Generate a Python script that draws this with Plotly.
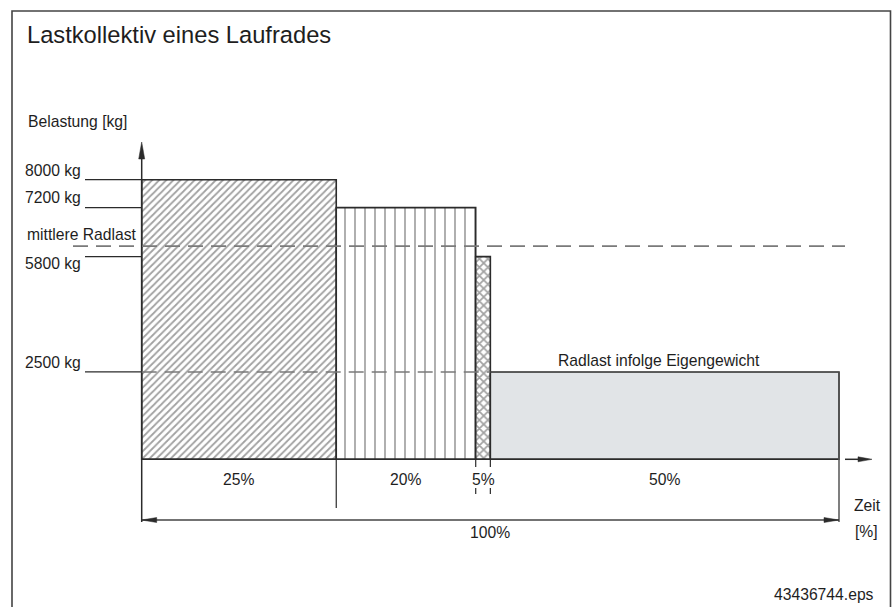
import plotly.graph_objects as go

# ---------------- data ----------------
share_labels = ["25%", "20%", "5%", "50%"]          # time shares (labels)
loads_kg = [8000, 7200, 5800, 2500]                 # wheel load per share
drawn_widths = [27.9, 20.0, 2.1, 50.0]              # schematic widths on the time axis (drawing not to scale)
mean_load_kg = 6100                                 # mittlere Radlast
tick_loads = [8000, 7200, 5800, 2500]
tick_labels = ["8000 kg", "7200 kg", "5800 kg", "2500 kg"]
total_label = "100%"

# ---------------- geometry helpers ----------------
W, H = 894, 607
X0, XS = 141.7, 6.973      # pixel of x=0, pixels per x unit
Y0, YS = 459.3, 0.03495    # pixel of y=0, pixels per kg


def xd(px):
    return (px - X0) / XS


def yd(py):
    return (Y0 - py) / YS


edges = [0.0]
for w in drawn_widths:
    edges.append(edges[-1] + w)
centers = [(a + b) / 2 for a, b in zip(edges[:-1], edges[1:])]

FONT = "Liberation Sans, Arial, Helvetica, sans-serif"
TXT = "#1e1e1e"
LINE = "#2b2b2b"
GREY = "#7a7a7a"

fig = go.Figure()
fig.add_trace(go.Bar(
    x=centers, y=loads_kg, width=drawn_widths, base=0,
    marker=dict(
        color=["white", "white", "white", "#e1e4e7"],
        line=dict(color=LINE, width=1.6),
        pattern=dict(shape=["/", "|", "x", ""], size=[5, 10, 6, 8],
                     solidity=[0.36, 0.17, 0.5, 0.2], fgcolor="#000000",
                     fillmode="overlay"),
    ),
    hoverinfo="skip", showlegend=False,
))

shapes = []


def seg(x0, y0, x1, y1, color=LINE, width=1.3, dash="solid"):
    shapes.append(dict(type="line", xref="x", yref="y", x0=x0, y0=y0, x1=x1, y1=y1,
                       line=dict(color=color, width=width, dash=dash), layer="above"))


def tri(pts, color=LINE):
    path = "M " + " L ".join(f"{x},{y}" for x, y in pts) + " Z"
    shapes.append(dict(type="path", xref="x", yref="y", path=path,
                       fillcolor=color, line=dict(color=color, width=0.5), layer="above"))


# outer frame
shapes.append(dict(type="rect", xref="paper", yref="paper",
                   x0=12 / W, y0=1 - 615 / H, x1=890.5 / W, y1=1 - 11 / H,
                   line=dict(color="#444444", width=1.6), fillcolor="rgba(0,0,0,0)", layer="below"))

# y axis with arrow
seg(0, yd(522), 0, yd(152), width=1.5)
tri([(0, yd(142)), (xd(X0 - 3), yd(159)), (xd(X0 + 3), yd(159))])

# tick lines
for v in tick_loads:
    seg(xd(85), v, 0, v, width=1.3)

# mean load dashed line
seg(xd(73), mean_load_kg, xd(845), mean_load_kg, color=GREY, width=1.6, dash="15px,8px")
# 2500 dashed line across the bars
seg(0, loads_kg[3], edges[3], loads_kg[3], color=GREY, width=1.6, dash="15px,8px")

# baseline and x-axis arrow
seg(0, 0, edges[-1], 0, width=1.5)
seg(xd(845), 0, xd(862), 0, width=1.5)
tri([(xd(872), 0), (xd(858), yd(Y0 - 2.5)), (xd(858), yd(Y0 + 2.5))])

# divider under first boundary
seg(edges[1], 0, edges[1], yd(508), width=1.2)
# small dashed ticks around 5%
for e in edges[2:4]:
    seg(e, yd(460), e, yd(467), width=1.2)
    seg(e, yd(488), e, yd(494), width=1.2)
# right end vertical
seg(edges[-1], loads_kg[3], edges[-1], yd(522), color="#555555", width=1.5)

# 100% dimension line
ydim = yd(520)
seg(0, ydim, edges[-1], ydim, color="#444444", width=1.3)
tri([(0, ydim), (xd(X0 + 15), yd(520 - 2.5)), (xd(X0 + 15), yd(520 + 2.5))])
tri([(edges[-1], ydim), (xd(839 - 15), yd(520 - 2.5)), (xd(839 - 15), yd(520 + 2.5))])

ann = []


def txt(text, x, y, xref="x", yref="y", xanchor="center", yanchor="middle", size=15.7,
        xshift=0, yshift=0):
    ann.append(dict(text=text, x=x, y=y, xref=xref, yref=yref, xanchor=xanchor,
                    yanchor=yanchor, showarrow=False, xshift=xshift, yshift=yshift,
                    font=dict(family=FONT, size=size, color=TXT)))


# title and axis title
txt("Lastkollektiv eines Laufrades", 25 / W, 1 - 35 / H, xref="paper", yref="paper",
    xanchor="left", size=23.7)
txt("Belastung [kg]", 26 / W, 1 - 121 / H, xref="paper", yref="paper", xanchor="left")

# tick labels
tick_shift = [9.5, 10, -6.5, 9.5]
for v, lab, s in zip(tick_loads, tick_labels, tick_shift):
    txt(lab, xd(83), v, xanchor="right", yshift=s)
txt("mittlere Radlast", 25 / W, mean_load_kg, xref="paper", xanchor="left", yshift=12)

# share labels
for c, lab in zip(centers, share_labels):
    txt(lab, c, 0, yshift=-20)
txt("Radlast infolge Eigengewicht", centers[3], loads_kg[3], xshift=-6, yshift=11)
txt(total_label, edges[-1] / 2, ydim, yshift=-12.5)

txt("Zeit", 867 / W, 1 - 505 / H, xref="paper", yref="paper")
txt("[%]", 866 / W, 1 - 531 / H, xref="paper", yref="paper")
txt("43436744.eps", 876 / W, 1 - 594 / H, xref="paper", yref="paper", xanchor="right")

fig.update_layout(
    width=W, height=H, margin=dict(l=0, r=0, t=0, b=0, pad=0),
    paper_bgcolor="white", plot_bgcolor="white",
    xaxis=dict(range=[-X0 / XS, (W - X0) / XS], visible=False, fixedrange=True),
    yaxis=dict(range=[-(H - Y0) / YS, Y0 / YS], visible=False, fixedrange=True),
    shapes=shapes, annotations=ann, showlegend=False,
)

fig.write_html("out.html", config={"displayModeBar": False},
               post_script="document.body.style.margin='0';document.body.style.overflow='hidden';")
